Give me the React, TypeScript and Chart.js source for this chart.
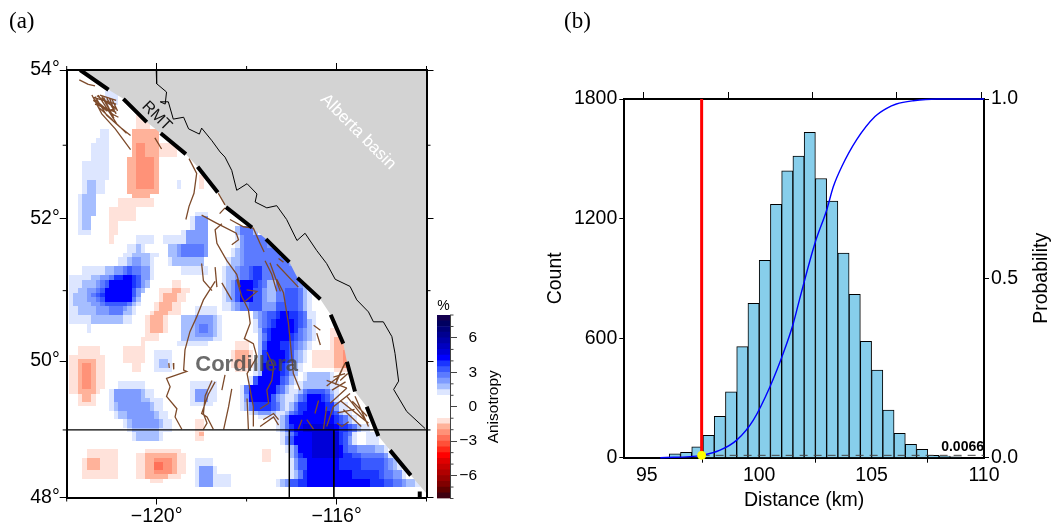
import React, { useEffect, useRef } from "react";
import { Chart, registerables } from "chart.js";

Chart.register(...registerables);

const FONT = "'Liberation Sans', Arial, sans-serif";

// ---------- map data ----------
const lonTicks = [-122, -120, -118, -116, -114];
const lonLabelled = [-120, -116];
const latTicks = [48, 49, 50, 51, 52, 53, 54];
const latLabelled = [48, 50, 52, 54];

const bandColors = [
  "#400010", "#600000", "#800000", "#980000", "#b00000", "#c80000", "#e00000", "#ff0000", "#ff2818", "#ff5038", "#ff7058", "#ff9278", "#ffb29a", "#ffe2da",
  "#ffffff", "#ffffff", "#ffffff", "#ffffff",
  "#dde6ff", "#a6beff", "#7f9cff", "#5c7bff", "#3a5aff", "#1a35ff", "#0000ff", "#0000d8", "#0000c0", "#0000a8", "#000090", "#000078", "#000060", "#140050",
];

const blueLevels = [1.25, 1.75, 2.25, 2.75, 3.25, 3.75, 4.25, 4.75];
const redLevels = [-1.25, -1.75, -2.25, -2.75];

// [rowFrom, rowTo, then a colFrom,colTo pair for each successive level; 0,-1 skips a level]
const blueStacks = [
  [5, 7, 9, 11], [13, 14, 8, 9], [15, 15, 7, 9], [16, 19, 6, 9], [20, 23, 4, 9], [24, 26, 4, 8, 5, 6], [27, 31, 3, 6, 4, 6], [32, 34, 3, 5, 4, 5], [35, 35, 3, 5], [24, 25, 25, 25],
  [31, 31, 29, 31], [32, 34, 28, 31, 29, 31, 29, 31], [35, 37, 26, 31, 27, 31, 27, 31], [36, 37, 22, 25], [38, 40, 23, 31, 23, 31, 25, 31, 26, 30], [41, 42, 23, 30, 24, 30], [43, 44, 26, 31],
  [36, 37, 16, 19], [38, 39, 14, 17, 16, 16], [40, 40, 13, 20, 15, 18], [41, 42, 12, 19, 14, 18, 15, 16],
  [43, 44, 4, 19, 9, 18, 11, 18, 13, 16, 14, 14],
  [45, 45, 1, 19, 6, 18, 8, 18, 10, 16, 11, 16, 11, 15, 13, 14],
  [46, 47, 1, 18, 4, 18, 7, 17, 8, 16, 9, 16, 10, 15, 10, 14],
  [48, 48, 1, 16, 3, 17, 5, 16, 7, 15, 8, 15, 9, 14, 9, 14],
  [49, 49, 1, 16, 2, 16, 5, 16, 6, 15, 7, 15, 8, 14, 9, 14],
  [50, 50, 1, 16, 2, 16, 5, 15, 7, 15, 8, 14, 9, 14, 9, 14],
  [51, 51, 1, 16, 2, 15, 6, 14, 8, 14, 9, 13],
  [52, 52, 1, 15, 3, 14, 7, 13, 10, 12],
  [53, 53, 1, 15, 3, 14, 7, 12, 10, 12],
  [54, 55, 1, 14, 6, 12],
  [56, 57, 5, 5],
  [34, 35, 38, 42, 38, 42, 39, 41, 39, 41],
  [36, 38, 38, 46, 39, 46, 39, 46, 40, 44],
  [39, 40, 37, 48, 38, 48, 39, 48, 40, 47],
  [41, 42, 36, 51, 37, 51, 39, 50, 40, 49],
  [43, 45, 35, 53, 36, 53, 38, 52, 39, 51, 41, 43, 42, 43],
  [46, 47, 35, 53, 36, 53, 37, 52, 38, 51, 38, 43, 39, 42, 39, 41],
  [46, 50, 0, -1, 45, 46],
  [48, 50, 35, 54, 36, 53, 37, 52, 38, 43, 38, 43, 39, 41, 39, 41],
  [48, 50, 47, 54, 47, 53, 47, 52, 47, 52],
  [48, 50, 0, -1, 45, 46, 44, 44],
  [48, 50, 0, -1, 0, -1, 0, -1, 0, -1, 49, 51],
  [51, 52, 35, 54, 37, 53, 38, 52, 39, 52, 41, 43],
  [51, 52, 0, -1, 0, -1, 44, 46],
  [51, 52, 0, -1, 0, -1, 0, -1, 0, -1, 47, 51],
  [53, 54, 42, 55, 42, 53, 43, 53, 44, 53, 45, 52, 47, 51, 48, 49],
  [55, 56, 42, 55, 43, 54, 43, 53, 44, 53, 45, 52, 46, 51, 47, 50],
  [57, 57, 42, 55, 43, 54, 44, 53, 44, 52, 44, 51, 45, 51, 46, 50],
  [58, 59, 43, 55, 43, 54, 44, 53, 44, 52, 45, 51, 45, 50, 46, 49],
  [60, 61, 43, 54, 43, 53, 44, 52, 44, 51, 44, 50, 45, 49, 45, 47],
  [62, 64, 43, 53, 43, 52, 44, 51, 44, 50, 44, 50, 44, 49, 45, 48],
  [65, 66, 42, 52, 43, 51, 44, 50, 44, 49, 44, 49, 44, 48, 44, 47],
  [67, 67, 42, 51, 43, 51, 44, 50, 44, 49, 44, 49, 44, 48, 44, 47],
  [68, 69, 41, 51, 42, 50, 42, 49, 42, 49, 42, 48, 43, 47, 43, 47],
  [70, 71, 39, 50, 40, 49, 40, 48, 40, 48, 41, 47, 41, 46, 41, 46],
  [72, 73, 39, 49, 40, 48, 40, 47, 41, 46, 41, 46, 41, 45, 41, 45],
  [74, 75, 39, 49, 40, 48, 41, 47, 41, 47, 42, 46, 42, 45],
  [76, 76, 41, 48, 42, 46, 43, 45],
  [77, 77, 43, 47],
  [67, 68, 53, 59, 54, 58],
  [69, 70, 52, 60, 53, 58],
  [71, 71, 51, 60, 52, 59, 53, 58, 53, 58, 54, 57],
  [72, 73, 50, 60, 51, 59, 52, 59, 52, 58, 53, 58, 54, 57, 54, 56],
  [74, 75, 49, 62, 50, 60, 51, 60, 51, 59, 52, 59, 52, 59, 54, 57],
  [76, 76, 49, 63, 49, 61, 50, 60, 50, 60, 51, 60, 52, 59, 53, 58],
  [77, 78, 47, 64, 48, 63, 49, 62, 49, 62, 50, 61, 50, 60, 50, 59],
  [79, 80, 47, 67, 48, 65, 49, 64, 49, 64, 50, 63, 50, 62, 51, 60, 53, 59],
  [81, 81, 48, 64, 49, 63, 50, 63, 50, 63, 51, 62, 51, 61, 52, 60, 55, 60],
  [81, 83, 67, 69],
  [82, 83, 48, 64, 49, 63, 49, 63, 50, 62, 50, 62, 51, 61, 51, 60, 55, 60],
  [84, 85, 49, 71, 50, 70, 51, 68, 51, 64, 52, 62, 52, 61, 52, 61, 55, 60],
  [86, 86, 50, 72, 50, 71, 51, 71, 51, 70, 52, 65, 52, 63, 53, 61, 55, 60],
  [87, 89, 50, 74, 51, 73, 51, 72, 52, 71, 52, 70, 54, 65, 54, 60],
  [90, 91, 50, 75, 51, 74, 52, 74, 52, 72, 53, 70, 53, 69, 54, 63],
  [92, 93, 47, 78, 48, 77, 49, 75, 50, 74, 50, 72, 52, 70, 54, 67],
  [62, 63, 20, 23], [64, 65, 20, 23, 21, 22], [66, 66, 20, 23],
  [69, 70, 12, 17], [71, 72, 10, 19, 11, 17, 11, 16], [73, 73, 10, 21, 11, 18, 11, 16], [74, 75, 10, 21, 11, 19, 12, 18], [76, 77, 11, 22, 12, 20, 14, 19], [78, 79, 13, 23, 14, 21, 15, 20], [80, 80, 14, 23, 15, 20], [81, 82, 15, 21, 16, 20],
  [69, 70, 28, 33], [71, 73, 28, 33, 29, 31, 29, 31], [74, 74, 28, 32],
  [52, 53, 29, 33], [54, 55, 26, 34, 26, 33, 29, 32], [56, 57, 26, 34, 26, 33, 29, 32, 30, 31], [58, 58, 26, 34, 26, 33, 29, 32], [59, 59, 26, 34, 26, 32], [60, 60, 25, 31],
  [87, 88, 29, 32], [89, 90, 29, 33, 30, 32, 30, 32], [91, 93, 29, 36, 30, 32, 30, 32],
];

const redStacks = [
  [10, 12, 16, 18], [13, 15, 15, 20, 15, 20], [16, 18, 15, 24, 15, 20, 16, 17], [19, 25, 14, 20, 14, 20, 16, 19], [26, 26, 14, 20, 14, 20], [27, 27, 15, 18, 15, 18], [28, 29, 12, 19], [30, 32, 10, 15], [33, 35, 10, 11], [36, 37, 10, 10], [23, 25, 30, 30],
  [46, 47, 24, 25], [48, 48, 21, 27, 24, 25], [49, 50, 21, 26, 22, 24], [51, 52, 20, 25, 21, 23], [53, 53, 19, 25, 20, 22], [54, 57, 18, 22, 19, 21], [58, 59, 18, 20],
  [60, 61, 38, 40], [62, 65, 37, 41, 38, 40], [66, 66, 38, 40],
  [57, 58, 59, 62], [59, 61, 59, 63, 60, 62], [62, 65, 55, 64, 60, 63, 62, 63], [66, 66, 60, 63],
  [78, 80, 29, 30], [81, 81, 29, 30, 30, 30], [82, 82, 29, 30],
  [85, 86, 5, 11], [87, 89, 4, 11, 5, 7], [90, 91, 4, 11],
  [85, 85, 18, 25], [86, 86, 16, 26, 18, 24], [87, 87, 16, 26, 18, 24, 20, 23], [88, 89, 16, 26, 18, 24, 20, 23, 20, 21], [90, 90, 16, 26, 18, 24, 20, 23], [91, 91, 16, 25, 18, 22], [92, 92, 19, 21],
  [85, 87, 44, 45],
  [61, 62, 3, 7], [63, 63, 1, 8], [64, 64, 1, 8, 3, 6], [65, 70, 1, 8, 3, 6, 4, 5], [71, 71, 1, 7, 3, 6], [72, 73, 3, 6, 4, 5], [74, 74, 3, 6],
  [59, 60, 17, 17], [61, 64, 13, 17], [65, 66, 15, 16],
];

// Rocky Mountain Trench [lon, lat], one list per dash
const rmtDashes = [
  [[-121.7, 54], [-121.07, 53.74]],
  [[-120.74, 53.62], [-120.22, 53.31]],
  [[-119.91, 53.16], [-119.35, 52.88]],
  [[-119.09, 52.71], [-118.64, 52.36]],
  [[-118.46, 52.16], [-117.88, 51.88]],
  [[-117.57, 51.72], [-117.05, 51.4]],
  [[-116.87, 51.18], [-116.36, 50.88]],
  [[-116.13, 50.66], [-115.85, 50.25]],
  [[-115.77, 49.99], [-115.59, 49.56]],
  [[-115.33, 49.34], [-115.07, 48.91]],
  [[-114.81, 48.7], [-114.35, 48.33]],
  [[-114.15, 48.09], [-114.15, 48.0]],
];

const basinEdge = [
  [-121.78, 54], [-121.07, 53.74], [-120.74, 53.62], [-120.22, 53.31], [-119.91, 53.16], [-119.35, 52.88], [-119.09, 52.71], [-118.64, 52.36], [-118.46, 52.16], [-117.88, 51.88], [-117.57, 51.72], [-117.05, 51.4], [-116.87, 51.18], [-116.36, 50.88], [-116.13, 50.66], [-115.85, 50.25], [-115.77, 49.99], [-115.59, 49.56], [-115.33, 49.34], [-115.07, 48.91], [-114.81, 48.7], [-114.35, 48.33], [-114, 48.06],
];

const provinceBorder = [
  [-120.01, 54], [-120.0, 53.82], [-119.78, 53.71], [-119.81, 53.55], [-119.92, 53.58], [-119.74, 53.58], [-119.63, 53.35], [-119.4, 53.375], [-119.29, 53.22], [-119.05, 53.15], [-119.0, 53.23], [-118.77, 53.06], [-118.59, 52.91], [-118.48, 52.84], [-118.33, 52.66], [-118.22, 52.39], [-117.99, 52.48], [-117.77, 52.34], [-117.81, 52.23], [-117.55, 52.15], [-117.33, 52.18], [-117.11, 51.99], [-116.88, 51.7], [-116.7, 51.8], [-116.44, 51.56], [-116.22, 51.38], [-116.03, 51.16], [-115.7, 51.06], [-115.55, 50.87], [-115.29, 50.7], [-115.18, 50.56], [-114.96, 50.56], [-114.77, 50.35], [-114.7, 50.11], [-114.62, 49.71], [-114.73, 49.59], [-114.44, 49.27], [-114.03, 49.02],
];

const faults = [
  [[-121.72, 53.87], [-121.52, 53.81]], [[-121.52, 53.81], [-121.37, 53.79]],
  [[-121.44, 53.67], [-121.22, 53.42], [-120.92, 53.22], [-120.58, 52.94]],
  [[-121.37, 53.65], [-121.11, 53.4], [-120.81, 53.24], [-120.58, 53.13]],
  [[-121.3, 53.67], [-121.07, 53.46], [-120.89, 53.29], [-120.67, 53.16]],
  [[-121.22, 53.65], [-121.0, 53.42], [-120.85, 53.375]],
  [[-121.11, 53.63], [-120.9, 53.42]], [[-121.0, 53.62], [-120.87, 53.46]],
  [[-121.41, 53.6], [-121.11, 53.46], [-120.9, 53.49]], [[-121.41, 53.64], [-120.9, 53.55]], [[-121.37, 53.55], [-120.9, 53.44]],
  [[-121.4, 53.62], [-120.95, 53.4]], [[-121.33, 53.66], [-120.92, 53.5]], [[-121.26, 53.67], [-120.9, 53.6]], [[-121.18, 53.64], [-120.95, 53.36]], [[-121.05, 53.63], [-120.95, 53.48]], [[-121.28, 53.5], [-120.98, 53.34]],
  [[-120.04, 53.1], [-119.89, 52.95]],
  [[-119.28, 52.82], [-119.11, 52.62], [-119.17, 52.35], [-119.28, 52.17], [-119.35, 51.99]],
  [[-118.63, 52.35], [-118.48, 52.19]], [[-118.48, 52.15], [-118.6, 52.07]],
  [[-119.0, 52.05], [-118.67, 51.94], [-118.23, 51.8], [-118.18, 51.71], [-118.33, 51.64]],
  [[-118.55, 51.93], [-118.7, 51.85], [-118.66, 51.66], [-118.44, 51.42], [-118.22, 51.23], [-118.14, 51.05]],
  [[-118.37, 51.99], [-118.07, 51.89], [-117.85, 51.87], [-117.7, 51.66], [-117.61, 51.54]],
  [[-117.59, 51.42], [-117.44, 51.23], [-117.33, 50.99]], [[-117.48, 51.39], [-117.25, 50.99]], [[-117.33, 51.37], [-116.85, 51.05]], [[-117.29, 51.45], [-117.18, 51.4]],
  [[-119.0, 51.38], [-118.96, 51.14], [-118.77, 51.0]], [[-118.7, 51.33], [-118.66, 51.05]],
  [[-118.7, 51.13], [-118.96, 50.87], [-119.11, 50.63], [-119.26, 50.42], [-119.37, 50.16], [-119.4, 49.87], [-119.33, 49.85], [-119.78, 49.75], [-119.7, 49.63], [-119.78, 49.49], [-119.55, 49.31], [-119.59, 49.19], [-119.44, 49.01]],
  [[-118.55, 51.11], [-118.33, 50.87]],
  [[-118.22, 51.16], [-118.11, 50.92], [-117.96, 50.73], [-117.92, 50.54], [-118.05, 50.32], [-117.85, 50.25], [-117.77, 50.06], [-117.99, 49.82], [-117.92, 49.58], [-117.85, 49.34], [-117.85, 49.05]],
  [[-117.33, 51.16], [-117.18, 50.97], [-117.07, 50.54], [-116.96, 49.82], [-116.81, 49.58]],
  [[-117.55, 50.13], [-117.4, 49.92], [-117.44, 49.72], [-117.55, 49.58], [-117.51, 49.39], [-117.7, 49.31]],
  [[-118.0, 51.01], [-117.77, 50.99], [-118.03, 50.85]],
  [[-118.77, 49.72], [-118.92, 49.5], [-118.96, 49.24], [-118.88, 49.1], [-118.96, 49.01]],
  [[-118.7, 49.7], [-118.85, 49.52], [-119.0, 49.24], [-118.88, 49.19], [-118.74, 49.01]],
  [[-118.48, 49.8], [-118.55, 49.58]], [[-118.33, 49.6], [-118.4, 49.34], [-118.51, 49.01]], [[-117.99, 49.46], [-117.96, 49.01]],
  [[-119.73, 49.97], [-119.72, 49.9]], [[-119.63, 49.97], [-119.62, 49.88]],
  [[-117.63, 49.15], [-117.4, 49.24], [-117.29, 49.15]], [[-117.7, 49.05], [-117.4, 49.19], [-117.29, 49.07]],
  [[-116.85, 49.01], [-116.77, 49.15]], [[-116.66, 49.15], [-116.51, 49.01]], [[-116.29, 49.01], [-116.22, 49.34]], [[-116.48, 49.24], [-116.4, 49.43]],
  [[-116.51, 50.51], [-116.36, 50.44]], [[-116.44, 50.4], [-116.36, 50.23]],
  [[-115.81, 49.97], [-115.96, 49.77], [-116.22, 49.64]], [[-115.88, 49.87], [-116.03, 49.66]], [[-116.22, 49.72], [-115.77, 49.61]], [[-115.77, 49.61], [-116.14, 49.39]],
  [[-115.85, 49.92], [-116.0, 49.72]], [[-115.92, 49.72], [-115.75, 49.82]], [[-116.1, 49.58], [-115.8, 49.7]],
  [[-115.7, 49.53], [-116.07, 49.34], [-116.22, 49.05]], [[-115.59, 49.49], [-115.29, 49.05]], [[-115.77, 49.49], [-115.36, 49.15]], [[-115.92, 49.43], [-115.29, 49.1]],
  [[-115.65, 49.42], [-115.32, 49.2]], [[-115.85, 49.3], [-115.45, 49.05]], [[-115.98, 49.25], [-115.6, 49.3]],
  [[-116.07, 49.77], [-115.81, 49.82]], [[-115.99, 49.1], [-115.88, 49.05], [-115.73, 49.12]],
];

const parallel49 = [[-122, 49], [-114, 49]];
const boxWest = [[-117.05, 49], [-117.05, 48]];
const boxEast = [[-116.06, 49], [-116.06, 48]];

// ---------- colour bar data ----------
const barEdges = [-8, -7.5, -7, -6.5, -6, -5.5, -5, -4.5, -4, -3.5, -3, -2.5, -2, -1.5, -1, -0.5, 0, 0.5, 1, 1.5, 2, 2.5, 3, 3.5, 4, 4.5, 5, 5.5, 6, 6.5, 7, 7.5, 8];
const barLabelled = [-6, -3, 0, 3, 6];

// ---------- histogram data ----------
const binCentres = [96.25, 96.75, 97.25, 97.75, 98.25, 98.75, 99.25, 99.75, 100.25, 100.75, 101.25, 101.75, 102.25, 102.75, 103.25, 103.75, 104.25, 104.75, 105.25, 105.75, 106.25, 106.75, 107.25, 107.75, 108.25, 108.75];
const binCounts = [20, 27, 55, 112, 207, 330, 557, 775, 990, 1271, 1440, 1514, 1633, 1401, 1288, 1027, 820, 584, 440, 239, 122, 67, 42, 12, 8, 4];
const cdfDistance = [95.6, 97.44, 98.26, 99.0, 99.74, 100.48, 101.07, 101.52, 101.79, 102.48, 103.0, 103.3, 103.67, 104.33, 105.15, 105.67, 106.1, 106.85, 107.9, 110];
const cdfProbability = [0, 0.0066, 0.021, 0.049, 0.105, 0.198, 0.291, 0.375, 0.44, 0.598, 0.69, 0.756, 0.811, 0.886, 0.951, 0.974, 0.986, 0.995, 1, 1];
const observedDistance = 97.44;
const observedProbability = 0.0066;
const distanceTicks = [95, 100, 105, 110];

const merc = (lat: number) => Math.asinh(Math.tan((lat * Math.PI) / 180));

const toPoints = (line: number[][]) => line.map(([x, y]) => ({ x, y: merc(y) }));
const withGaps = (lines: number[][][]) => lines.flatMap((l) => [...toPoints(l), { x: null, y: null }]);

function buildGrid() {
  const grid = Array.from({ length: 97 }, () => new Array(81).fill(0));
  const apply = (stacks: number[][], levels: number[]) => {
    for (const s of stacks) {
      for (let k = 2, lev = 0; k < s.length; k += 2, lev++) {
        for (let r = s[0]; r <= s[1]; r++) for (let c = s[k]; c <= s[k + 1]; c++) grid[r][c] = levels[lev];
      }
    }
  };
  apply(blueStacks, blueLevels);
  apply(redStacks, redLevels);
  return grid;
}

const colorFor = (v: number) => bandColors[Math.min(31, Math.max(0, Math.floor((v + 8) / 0.5)))];

const drawText = (ctx: any, text: string, x: number, y: number, font: string, color: string, deg = 0, align = "center") => {
  ctx.save();
  ctx.translate(x, y);
  ctx.rotate((deg * Math.PI) / 180);
  ctx.font = font;
  ctx.fillStyle = color;
  ctx.textAlign = align;
  ctx.textBaseline = "middle";
  ctx.fillText(text, 0, 0);
  ctx.restore();
};

function makeMap(canvas: HTMLCanvasElement) {
  const grid = buildGrid();
  const heat = {
    id: "heat",
    beforeDatasetsDraw(chart: any) {
      const { ctx, chartArea: a, scales } = chart;
      const { x, y } = scales;
      ctx.save();
      ctx.beginPath();
      ctx.rect(a.left, a.top, a.right - a.left, a.bottom - a.top);
      ctx.clip();
      grid.forEach((row, r) => {
        const y0 = Math.round(y.getPixelForValue(merc(54 - (r - 0.5) * 0.0625)));
        const y1 = Math.round(y.getPixelForValue(merc(54 - (r + 0.5) * 0.0625)));
        row.forEach((v: number, c: number) => {
          if (Math.abs(v) < 1) return;
          const x0 = Math.round(x.getPixelForValue(-122 + (c - 0.5) * 0.1));
          const x1 = Math.round(x.getPixelForValue(-122 + (c + 0.5) * 0.1));
          ctx.fillStyle = colorFor(v);
          ctx.fillRect(x0, y0, x1 - x0, y1 - y0);
        });
      });
      ctx.restore();
    },
  };
  const marks = {
    id: "marks",
    afterDraw(chart: any) {
      const { ctx, chartArea: a, scales } = chart;
      const { x, y } = scales;
      ctx.save();
      ctx.strokeStyle = "#000";
      ctx.lineWidth = 1;
      ctx.beginPath();
      lonTicks.filter((l) => !lonLabelled.includes(l)).forEach((l) => {
        const p = x.getPixelForValue(l);
        ctx.moveTo(p, a.top);
        ctx.lineTo(p, a.top - 4);
        ctx.moveTo(p, a.bottom);
        ctx.lineTo(p, a.bottom + 4);
      });
      latTicks.filter((l) => !latLabelled.includes(l)).forEach((l) => {
        const p = y.getPixelForValue(merc(l));
        ctx.moveTo(a.left, p);
        ctx.lineTo(a.left - 4, p);
        ctx.moveTo(a.right, p);
        ctx.lineTo(a.right + 4, p);
      });
      ctx.stroke();
      ctx.restore();
      const px = (lon: number) => x.getPixelForValue(lon);
      const py = (lat: number) => y.getPixelForValue(merc(lat));
      drawText(ctx, "RMT", px(-120.0), py(53.39), `16px ${FONT}`, "#111", 45);
      drawText(ctx, "Alberta basin", px(-115.52), py(53.18), `17px ${FONT}`, "#fff", 45);
      drawText(ctx, "Cordillera", px(-118.0), py(49.95), `bold 22px ${FONT}`, "rgba(70,70,70,0.8)");
    },
  };
  const lonTickColor = (c: any) => (lonLabelled.includes(c.tick?.value) ? "#000" : "transparent");
  const latTickColor = (c: any) => (latLabelled.some((l) => Math.abs(merc(l) - c.tick?.value) < 1e-6) ? "#000" : "transparent");
  const lonTickList = (a: any) => { a.ticks = lonTicks.map((value) => ({ value })); };
  const latTickList = (a: any) => { a.ticks = latTicks.map((l) => ({ value: merc(l) })); };
  const edge = { color: "#000", width: 2, z: 1 };
  const lineBase = { showLine: true, pointRadius: 0, fill: false, tension: 0 };
  return new Chart(canvas, {
    type: "scatter",
    data: {
      datasets: [
        { ...lineBase, label: "Alberta basin", data: toPoints(basinEdge), borderWidth: 0, borderColor: "#d3d3d3", backgroundColor: "#d3d3d3", fill: "end", order: 9 },
        { ...lineBase, label: "Faults", data: withGaps(faults), borderColor: "#7d4a2a", borderWidth: 1.3, order: 7 },
        { ...lineBase, label: "Border", data: toPoints(provinceBorder), borderColor: "#000", borderWidth: 1, order: 6 },
        { ...lineBase, label: "49N", data: toPoints(parallel49), borderColor: "#000", borderWidth: 1.2, order: 5 },
        { ...lineBase, label: "West", data: toPoints(boxWest), borderColor: "#000", borderWidth: 1, order: 5 },
        { ...lineBase, label: "East", data: toPoints(boxEast), borderColor: "#000", borderWidth: 1, order: 5 },
        { ...lineBase, label: "RMT", data: withGaps(rmtDashes), borderColor: "#000", borderWidth: 4, borderCapStyle: "butt", order: 1 },
      ],
    },
    options: {
      animation: false,
      responsive: false,
      events: [],
      layout: { padding: { left: 0, right: 0, top: 60, bottom: 0 } },
      plugins: { legend: { display: false }, tooltip: { enabled: false } },
      scales: {
        x: {
          type: "linear", position: "bottom", min: -122, max: -114,
          afterBuildTicks: lonTickList,
          afterFit: (s: any) => { s.height = 31.5; },
          grid: { drawOnChartArea: false, tickLength: 7, tickColor: lonTickColor, tickWidth: 1 },
          border: edge,
          ticks: { autoSkip: false, maxRotation: 0, padding: 0, color: "#000", font: { family: FONT, size: 19.5 }, callback: (v: any) => (lonLabelled.includes(v) ? `\u2212${Math.abs(v)}\u00b0` : "") },
        },
        x2: {
          type: "linear", position: "top", min: -122, max: -114,
          afterBuildTicks: lonTickList,
          afterFit: (s: any) => { s.height = 10; },
          grid: { drawOnChartArea: false, tickLength: 7, tickColor: lonTickColor },
          border: edge,
          ticks: { display: false },
        },
        y: {
          type: "linear", position: "left", min: merc(48), max: merc(54),
          afterBuildTicks: latTickList,
          afterFit: (s: any) => { s.width = 66.7; },
          grid: { drawOnChartArea: false, tickLength: 7, tickColor: latTickColor },
          border: edge,
          ticks: {
            autoSkip: false, padding: 0, color: "#000", font: { family: FONT, size: 19.5 },
            callback: (v: any) => {
              const lat = latLabelled.find((l) => Math.abs(merc(l) - v) < 1e-6);
              return lat === undefined ? "" : `${lat}\u00b0`;
            },
          },
        },
        y2: {
          type: "linear", position: "right", min: merc(48), max: merc(54),
          afterBuildTicks: latTickList,
          afterFit: (s: any) => { s.width = 7.5; },
          grid: { drawOnChartArea: false, tickLength: 7, tickColor: latTickColor },
          border: edge,
          ticks: { display: false },
        },
      },
    },
    plugins: [heat, marks],
  } as any);
}

function makeColorBar(canvas: HTMLCanvasElement) {
  const datasets = barEdges.slice(0, -1).map((lo, i) => ({
    label: `${lo}`,
    data: [[lo, barEdges[i + 1]]],
    backgroundColor: bandColors[i],
    borderWidth: 0,
    grouped: false,
    barPercentage: 1,
    categoryPercentage: 1,
  }));
  const extras = {
    id: "barExtras",
    afterDraw(chart: any) {
      const { ctx, chartArea: a, scales } = chart;
      ctx.save();
      ctx.strokeStyle = "#444";
      ctx.lineWidth = 1;
      ctx.beginPath();
      for (const v of scales.y.ticks) {
        if (barLabelled.includes(v.value)) continue;
        const p = scales.y.getPixelForValue(v.value);
        ctx.moveTo(a.right, p);
        ctx.lineTo(a.right + 3.5, p);
      }
      ctx.stroke();
      ctx.restore();
      drawText(ctx, "%", (a.left + a.right) / 2, a.top - 9, `14px ${FONT}`, "#000");
      drawText(ctx, "Anisotropy", a.right + 44, scales.y.getPixelForValue(0), `15.5px ${FONT}`, "#000", -90);
    },
  };
  return new Chart(canvas, {
    type: "bar",
    data: { labels: ["Anisotropy"], datasets },
    options: {
      animation: false,
      responsive: false,
      events: [],
      layout: { padding: { left: 12, right: 53, top: 315, bottom: 30.5 } },
      plugins: { legend: { display: false }, tooltip: { enabled: false } },
      scales: {
        x: { display: false },
        y: {
          position: "right", min: -8, max: 8,
          afterFit: (s: any) => { s.width = 27; },
          grid: { drawOnChartArea: false, tickLength: 7, tickColor: (c: any) => (barLabelled.includes(c.tick?.value) ? "#444" : "transparent") },
          border: { color: "#444", width: 1 },
          ticks: {
            stepSize: 1, autoSkip: false, crossAlign: "far", padding: 1, color: "#000", font: { family: FONT, size: 15.5 },
            callback: (v: any) => (barLabelled.includes(v) ? `${v}`.replace("-", "\u2212") : ""),
          },
        },
      },
    },
    plugins: [extras],
  } as any);
}

function makeHistogram(canvas: HTMLCanvasElement) {
  const edge = { color: "#000", width: 2 };
  const tickFont = { family: FONT, size: 19.5 };
  const distTicks = (a: any) => { a.ticks = distanceTicks.map((value) => ({ value })); };
  const extras = {
    id: "histExtras",
    afterDraw(chart: any) {
      const { ctx, chartArea: a, scales } = chart;
      drawText(ctx, "0.0066", scales.x.getPixelForValue(110), scales.y.getPixelForValue(52), `bold 14px ${FONT}`, "#000", 0, "right");
      drawText(ctx, "Probability", a.right + 57.5, (a.top + a.bottom) / 2 + 0, `19.5px ${FONT}`, "#000", -90);
    },
  };
  return new Chart(canvas, {
    type: "bar",
    data: {
      datasets: [
        { label: "Count", data: binCentres.map((x, i) => ({ x, y: binCounts[i] })), backgroundColor: "#87ceeb", borderColor: "#000", borderWidth: 1, barPercentage: 1, categoryPercentage: 1, order: 6, yAxisID: "y" },
        { type: "line", label: "p", data: [{ x: observedDistance, y: observedProbability }, { x: 110, y: observedProbability }], borderColor: "#444", borderWidth: 1, borderDash: [8, 6], pointRadius: 0, order: 5, yAxisID: "y2" },
        { type: "line", label: "Observed", data: [{ x: observedDistance, y: 0 }, { x: observedDistance, y: 1 }], borderColor: "#ff0000", borderWidth: 3, pointRadius: 0, order: 4, yAxisID: "y2" },
        { type: "line", label: "CDF", data: cdfDistance.map((x, i) => ({ x, y: cdfProbability[i] })), borderColor: "#0000ff", borderWidth: 1.4, pointRadius: 0, cubicInterpolationMode: "monotone", order: 3, yAxisID: "y2", clip: 3 },
        { type: "line", label: "Observed point", data: [{ x: observedDistance, y: observedProbability }], showLine: false, pointRadius: 4, pointBackgroundColor: "#ffff00", pointBorderColor: "#ffff00", order: 1, yAxisID: "y2", clip: 6 },
      ],
    },
    options: {
      animation: false,
      responsive: false,
      events: [],
      layout: { padding: { left: 44, right: 0, top: 0, bottom: 17 } },
      plugins: { legend: { display: false }, tooltip: { enabled: false } },
      scales: {
        x: {
          type: "linear", position: "bottom", min: 94, max: 110, offset: false,
          afterBuildTicks: distTicks,
          afterFit: (s: any) => { s.height = 54.3; },
          grid: { drawOnChartArea: false, tickLength: 5, tickColor: "#000" },
          border: edge,
          ticks: { autoSkip: false, maxRotation: 0, padding: 1, color: "#000", font: tickFont },
          title: { display: true, text: "Distance (km)", color: "#000", font: tickFont, padding: 0 },
        },
        x2: {
          type: "linear", position: "top", min: 94, max: 110,
          afterBuildTicks: distTicks,
          afterFit: (s: any) => { s.height = 99; },
          grid: { drawOnChartArea: false, tickLength: 7, tickColor: "#000" },
          border: edge,
          ticks: { display: false },
        },
        y: {
          position: "left", min: 0, max: 1800,
          afterFit: (s: any) => { s.width = 80.3; },
          grid: { drawOnChartArea: false, tickLength: 5, tickColor: "#000" },
          border: edge,
          ticks: { stepSize: 600, padding: 2, color: "#000", font: tickFont, callback: (v: any) => `${v}` },
          title: { display: true, text: "Count", color: "#000", font: tickFont, padding: 0 },
        },
        y2: {
          position: "right", min: 0, max: 1,
          afterFit: (s: any) => { s.width = 69; },
          grid: { drawOnChartArea: false, tickLength: 5, tickColor: "#000" },
          border: edge,
          ticks: { stepSize: 0.5, padding: 2, color: "#000", font: tickFont, callback: (v: any) => Number(v).toFixed(1) },
        },
      },
    },
    plugins: [extras],
  } as any);
}

const abs = (left: number, width: number): React.CSSProperties => ({ position: "absolute", left, top: 0, width, height: 529 });

export default function App() {
  const mapRef = useRef<HTMLCanvasElement>(null);
  const barRef = useRef<HTMLCanvasElement>(null);
  const histRef = useRef<HTMLCanvasElement>(null);
  useEffect(() => {
    const charts = [makeMap(mapRef.current!), makeColorBar(barRef.current!), makeHistogram(histRef.current!)];
    return () => charts.forEach((c) => c.destroy());
  }, []);
  const panel: React.CSSProperties = { position: "absolute", top: 7, fontFamily: "'Liberation Serif', serif", fontSize: 23, lineHeight: "28px", color: "#000" };
  return (
    <div style={{ position: "absolute", left: 0, top: 0, width: 1053, height: 529, overflow: "hidden", background: "#fff" }}>
      <canvas ref={mapRef} width={434} height={529} style={abs(0, 434)} />
      <canvas ref={barRef} width={105} height={529} style={abs(425, 105)} />
      <canvas ref={histRef} width={553} height={529} style={abs(500, 553)} />
      <div style={{ ...panel, left: 9 }}>(a)</div>
      <div style={{ ...panel, left: 564 }}>(b)</div>
    </div>
  );
}
